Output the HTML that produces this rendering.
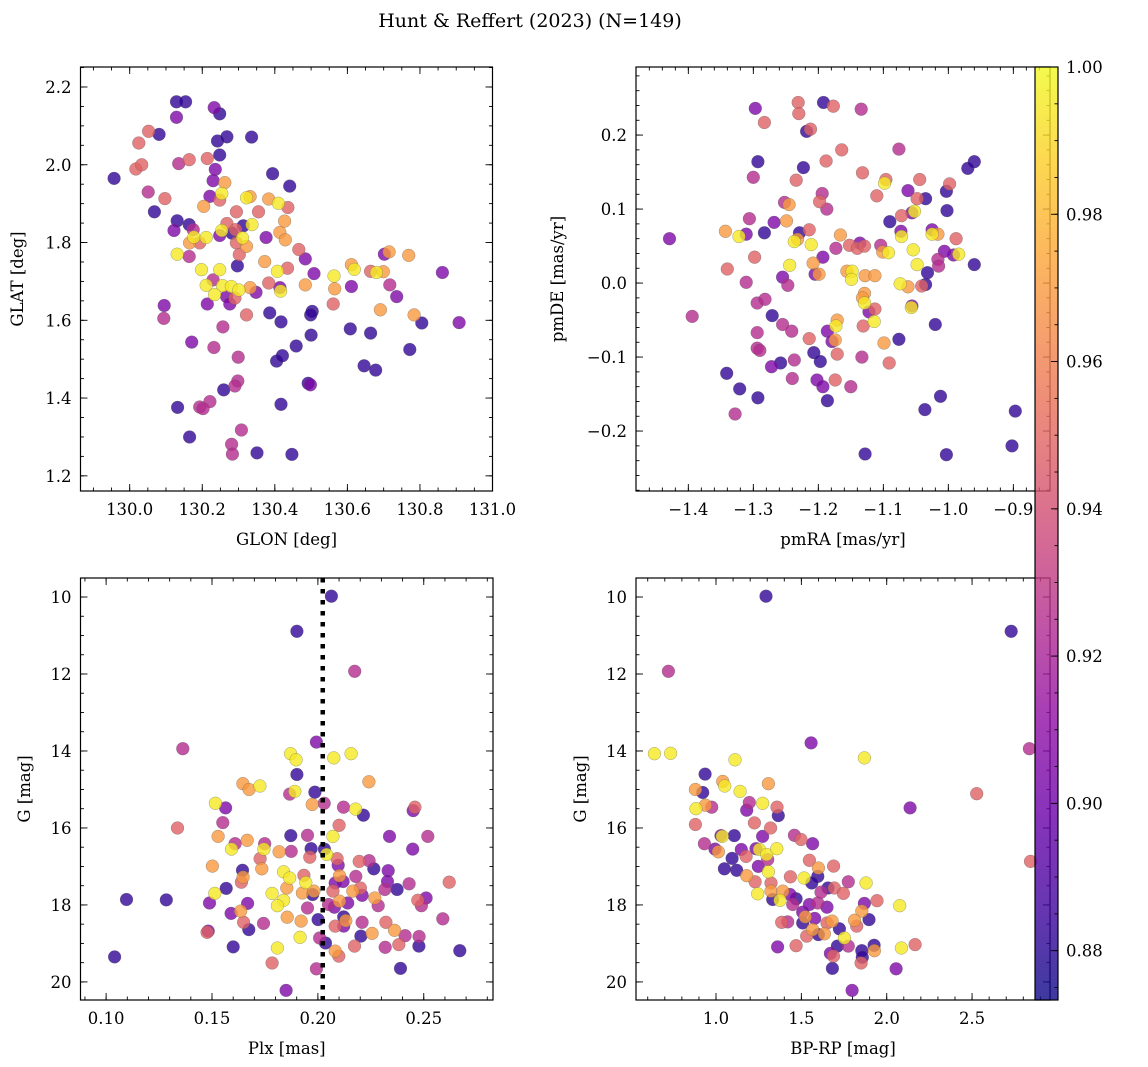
<!DOCTYPE html>
<html><head><meta charset="utf-8"><title>Hunt & Reffert (2023)</title>
<style>
html,body{margin:0;padding:0;background:#fff;}
svg{display:block;font-family:"DejaVu Serif","Liberation Serif",serif;}
</style></head>
<body>
<svg id="fig" width="1148" height="1067" viewBox="0 0 1148 1067" xmlns="http://www.w3.org/2000/svg">
<text x="530" y="27" text-anchor="middle" font-size="19">Hunt &amp; Reffert (2023) (N=149)</text>
</svg>
<script>
// ---------- Panel 1: GLON vs GLAT ----------
const p1Glon=[130.129,130.154,130.233,130.248,130.129,130.052,130.081,130.025,130.242,130.268,130.336,130.248,130.135,130.164,130.214,130.017,130.033,129.957,130.236,130.230,130.262,130.394,130.441,130.051,130.097,130.221,130.254,130.248,130.204,130.322,130.332,130.383,130.410,130.436,130.068,130.294,130.355,130.131,130.122,130.164,130.175,130.177,130.211,130.254,130.268,130.248,130.282,130.292,130.313,130.337,130.311,130.322,130.294,130.165,130.193,130.131,130.164,130.302,130.297,130.376,130.414,130.427,130.429,130.466,130.484,130.372,130.407,130.435,130.508,130.198,130.248,130.211,130.230,130.256,130.280,130.301,130.234,130.267,130.276,130.290,130.332,130.348,130.383,130.414,130.416,130.484,130.563,130.565,130.611,130.611,130.619,130.664,130.680,130.699,130.702,130.715,130.769,130.862,130.717,130.736,130.691,130.784,130.805,130.908,130.561,130.608,130.664,130.772,130.646,130.678,130.503,130.499,130.500,130.459,130.417,130.386,130.322,130.214,130.095,130.094,130.257,130.171,130.232,130.299,130.405,130.421,130.492,130.498,130.298,130.290,130.259,130.221,130.193,130.202,130.132,130.417,130.165,130.308,130.281,130.283,130.351,130.447];
const p1Glat=[2.162,2.162,2.147,2.131,2.122,2.086,2.078,2.056,2.061,2.072,2.071,2.025,2.003,2.013,2.016,1.989,2.000,1.965,1.988,1.959,1.954,1.977,1.945,1.930,1.913,1.919,1.926,1.909,1.893,1.915,1.918,1.912,1.901,1.890,1.879,1.879,1.879,1.856,1.831,1.846,1.833,1.814,1.813,1.831,1.849,1.818,1.824,1.833,1.843,1.846,1.812,1.790,1.799,1.799,1.799,1.770,1.764,1.769,1.740,1.813,1.826,1.855,1.807,1.782,1.758,1.751,1.726,1.734,1.720,1.730,1.730,1.690,1.704,1.689,1.687,1.678,1.666,1.661,1.642,1.657,1.684,1.672,1.696,1.684,1.675,1.691,1.714,1.681,1.687,1.743,1.731,1.726,1.723,1.725,1.770,1.776,1.767,1.723,1.691,1.661,1.627,1.614,1.593,1.594,1.642,1.578,1.567,1.525,1.483,1.472,1.623,1.614,1.562,1.534,1.596,1.619,1.614,1.642,1.638,1.605,1.583,1.544,1.530,1.505,1.495,1.509,1.438,1.434,1.444,1.431,1.421,1.391,1.377,1.373,1.376,1.384,1.300,1.318,1.281,1.256,1.259,1.255];
const p1Prob=[0.882,0.882,0.905,0.882,0.905,0.948,0.882,0.948,0.882,0.882,0.882,0.882,0.925,0.948,0.948,0.948,0.948,0.882,0.905,0.905,0.970,0.882,0.882,0.925,0.948,0.905,0.995,0.948,0.970,0.995,0.970,0.970,0.995,0.948,0.882,0.948,0.948,0.882,0.905,0.882,0.925,0.995,0.995,0.995,0.948,0.905,0.882,0.948,0.882,0.995,0.995,0.970,0.948,0.970,0.948,0.995,0.925,0.948,0.882,0.905,0.970,0.970,0.970,0.948,0.905,0.970,0.995,0.948,0.905,0.995,0.995,0.995,0.925,0.995,0.995,0.995,0.995,0.905,0.905,0.948,0.970,0.905,0.948,0.905,0.995,0.970,0.995,0.970,0.905,0.970,0.995,0.948,0.995,0.970,0.905,0.970,0.970,0.905,0.925,0.905,0.970,0.970,0.882,0.905,0.948,0.882,0.882,0.882,0.882,0.882,0.882,0.882,0.882,0.882,0.882,0.882,0.948,0.905,0.905,0.925,0.925,0.905,0.925,0.925,0.882,0.882,0.882,0.905,0.925,0.925,0.882,0.925,0.925,0.925,0.882,0.882,0.882,0.925,0.925,0.925,0.882,0.882];

// ---------- Panel 2: pmRA vs pmDE ----------
const p2PmRA=[-1.297,-1.231,-1.192,-1.177,-1.134,-1.230,-1.283,-1.218,-1.212,-1.164,-1.076,-1.293,-1.300,-1.223,-1.188,-1.234,-1.132,-1.096,-1.098,-1.044,-0.960,-0.970,-1.194,-1.198,-1.187,-1.252,-1.245,-1.110,-1.062,-1.048,-1.035,-1.003,-0.998,-1.002,-1.056,-1.052,-1.072,-1.090,-1.306,-1.268,-1.249,-1.343,-1.322,-1.311,-1.283,-1.229,-1.214,-1.232,-1.237,-1.211,-1.166,-1.429,-1.298,-1.340,-1.311,-1.244,-1.255,-1.247,-1.205,-1.199,-1.208,-1.193,-1.173,-1.152,-1.140,-1.136,-1.129,-1.104,-1.101,-1.092,-1.073,-1.072,-1.054,-1.025,-1.025,-1.016,-0.988,-1.006,-0.992,-0.984,-1.016,-1.015,-1.048,-1.032,-1.035,-1.041,-0.960,-1.074,-1.062,-1.156,-1.148,-1.149,-1.128,-1.113,-1.129,-1.132,-1.129,-1.122,-1.113,-1.114,-1.056,-1.057,-1.394,-1.294,-1.282,-1.271,-1.255,-1.241,-1.294,-1.294,-1.290,-1.171,-1.173,-1.186,-1.179,-1.174,-1.214,-1.131,-1.099,-1.076,-1.020,-1.171,-1.207,-1.197,-1.237,-1.258,-1.272,-1.341,-1.321,-1.293,-1.328,-1.240,-1.202,-1.193,-1.174,-1.150,-1.186,-1.133,-1.091,-1.012,-1.036,-0.897,-0.902,-1.128,-1.003];
const p2PmDE=[0.236,0.244,0.244,0.239,0.235,0.229,0.217,0.205,0.208,0.180,0.181,0.164,0.143,0.156,0.165,0.139,0.149,0.140,0.135,0.140,0.164,0.155,0.121,0.110,0.100,0.109,0.106,0.118,0.125,0.114,0.114,0.124,0.134,0.098,0.095,0.097,0.091,0.083,0.087,0.082,0.084,0.070,0.063,0.066,0.068,0.068,0.072,0.059,0.056,0.052,0.065,0.060,0.035,0.019,0.001,0.024,0.008,-0.003,0.012,0.012,0.027,0.035,0.047,0.051,0.047,0.054,0.050,0.051,0.042,0.041,0.070,0.063,0.045,0.072,0.066,0.066,0.060,0.043,0.038,0.039,0.032,0.023,0.025,0.014,-0.002,-0.004,0.025,-0.001,-0.005,0.016,0.016,0.005,0.010,0.010,-0.014,-0.020,-0.027,-0.039,-0.035,-0.052,-0.031,-0.033,-0.045,-0.027,-0.022,-0.044,-0.056,-0.065,-0.067,-0.088,-0.091,-0.050,-0.058,-0.065,-0.079,-0.077,-0.075,-0.058,-0.081,-0.076,-0.056,-0.096,-0.094,-0.106,-0.104,-0.108,-0.113,-0.122,-0.143,-0.155,-0.177,-0.129,-0.131,-0.140,-0.131,-0.140,-0.159,-0.100,-0.108,-0.153,-0.171,-0.173,-0.220,-0.231,-0.232];
const p2Prob=[0.905,0.948,0.882,0.948,0.925,0.948,0.948,0.882,0.948,0.948,0.925,0.882,0.925,0.882,0.948,0.948,0.948,0.948,0.995,0.948,0.882,0.882,0.925,0.948,0.925,0.925,0.970,0.948,0.905,0.948,0.882,0.882,0.948,0.882,0.905,0.995,0.948,0.882,0.925,0.905,0.970,0.970,0.995,0.905,0.882,0.882,0.948,0.970,0.995,0.995,0.970,0.905,0.948,0.948,0.925,0.995,0.905,0.925,0.905,0.970,0.970,0.905,0.925,0.948,0.948,0.905,0.948,0.925,0.970,0.995,0.905,0.995,0.995,0.905,0.995,0.970,0.948,0.905,0.905,0.995,0.925,0.925,0.995,0.882,0.882,0.948,0.882,0.995,0.970,0.970,0.995,0.995,0.970,0.970,0.970,0.970,0.995,0.905,0.948,0.995,0.905,0.995,0.925,0.925,0.925,0.882,0.925,0.925,0.925,0.925,0.925,0.970,0.995,0.905,0.905,0.970,0.948,0.948,0.970,0.882,0.882,0.948,0.882,0.882,0.925,0.882,0.905,0.882,0.882,0.882,0.925,0.925,0.905,0.905,0.948,0.925,0.882,0.925,0.948,0.882,0.882,0.882,0.882,0.882,0.882];

// ---------- Panel 3: Plx vs G ----------
const p3Plx=[0.2064,0.1901,0.2174,0.1362,0.1993,0.1871,0.1897,0.2075,0.2157,0.1901,0.2241,0.1646,0.1675,0.1726,0.1867,0.1891,0.1986,0.1516,0.1564,0.1973,0.2030,0.2121,0.2178,0.2215,0.2458,0.2450,0.1551,0.1337,0.1529,0.1609,0.1592,0.1666,0.1749,0.1745,0.1817,0.1872,0.1951,0.1968,0.1874,0.2031,0.2041,0.2071,0.2100,0.1727,0.1502,0.1644,0.1735,0.1962,0.2091,0.2096,0.2195,0.2242,0.2264,0.2338,0.2519,0.2448,0.2332,0.1647,0.1639,0.1567,0.1513,0.1838,0.1867,0.1934,0.1943,0.1853,0.1784,0.1838,0.1809,0.1927,0.1981,0.1975,0.2071,0.2082,0.2119,0.2102,0.2179,0.2165,0.2201,0.2209,0.2141,0.2102,0.2078,0.2050,0.2269,0.2285,0.2316,0.2329,0.2374,0.2431,0.2620,0.2472,0.2511,0.2489,0.1096,0.1284,0.1488,0.1590,0.1635,0.1668,0.1649,0.1674,0.1743,0.1855,0.1921,0.1951,0.2001,0.1482,0.1477,0.1600,0.1916,0.1809,0.1784,0.2008,0.2036,0.2082,0.2122,0.2132,0.2122,0.2209,0.2203,0.2173,0.2256,0.2321,0.2362,0.2412,0.2478,0.2477,0.2318,0.2382,0.2590,0.2670,0.2082,0.2099,0.1993,0.2390,0.1850,0.1040];
const p3G=[9.98,10.89,11.93,13.94,13.77,14.07,14.23,14.18,14.07,14.61,14.80,14.85,15.00,14.91,15.12,15.05,15.07,15.36,15.48,15.39,15.36,15.46,15.51,15.67,15.46,15.55,15.86,16.00,16.22,16.41,16.55,16.32,16.41,16.55,16.62,16.20,16.19,16.54,16.61,16.55,16.69,16.22,15.93,16.80,16.99,17.10,17.06,16.76,16.80,16.97,16.87,16.85,17.06,16.22,16.22,16.55,17.11,17.28,17.41,17.57,17.70,17.14,17.30,17.23,17.42,17.56,17.70,17.88,18.02,17.69,17.64,17.73,17.64,17.43,17.39,17.24,17.26,17.64,17.56,17.75,17.95,17.90,18.06,17.99,17.82,18.02,17.60,17.39,17.60,17.45,17.41,17.88,17.82,18.02,17.86,17.87,17.95,18.22,18.16,17.96,18.45,18.64,18.48,18.32,18.42,18.08,18.38,18.68,18.71,19.09,18.84,19.12,19.51,18.86,18.99,18.55,18.31,18.41,18.55,18.45,18.81,19.07,18.74,18.45,18.66,18.80,18.82,19.07,19.10,19.03,18.36,19.19,19.20,19.33,19.66,19.65,20.22,19.35];
const p3Prob=[0.882,0.882,0.925,0.925,0.905,0.995,0.995,0.995,0.995,0.882,0.970,0.970,0.970,0.995,0.925,0.995,0.882,0.995,0.905,0.970,0.925,0.925,0.995,0.882,0.948,0.905,0.925,0.948,0.970,0.925,0.995,0.970,0.925,0.995,0.970,0.882,0.925,0.882,0.925,0.882,0.995,0.995,0.948,0.948,0.970,0.882,0.970,0.948,0.948,0.905,0.948,0.925,0.882,0.905,0.925,0.905,0.905,0.970,0.948,0.882,0.995,0.995,0.995,0.948,0.995,0.970,0.995,0.995,0.995,0.970,0.970,0.882,0.948,0.905,0.905,0.970,0.925,0.970,0.948,0.905,0.905,0.970,0.905,0.925,0.970,0.925,0.925,0.905,0.882,0.925,0.948,0.948,0.905,0.925,0.882,0.882,0.905,0.905,0.970,0.905,0.948,0.882,0.925,0.970,0.970,0.925,0.882,0.905,0.948,0.882,0.995,0.995,0.948,0.925,0.882,0.948,0.882,0.970,0.905,0.925,0.882,0.948,0.970,0.948,0.970,0.925,0.925,0.882,0.925,0.948,0.925,0.882,0.970,0.948,0.925,0.882,0.905,0.882];
const p3PlxLine=0.2023;

// ---------- Panel 4: BP-RP vs G ----------
const p4BpRp=[1.293,2.729,0.721,1.557,2.836,0.639,0.734,1.869,1.111,0.936,1.039,1.051,1.141,1.307,0.879,0.922,0.938,0.975,0.883,1.195,1.180,1.273,1.357,1.365,2.527,2.137,0.879,1.225,1.320,1.029,1.037,1.107,1.273,0.932,0.994,1.014,1.094,1.049,1.121,1.148,1.176,1.234,1.254,1.297,1.356,1.248,1.307,1.303,1.459,1.498,1.566,1.547,1.600,1.689,1.596,1.561,1.516,1.436,1.180,1.229,1.244,1.322,1.322,1.332,1.375,1.391,1.434,1.469,1.449,1.508,1.547,1.596,1.650,1.615,1.656,1.693,1.746,1.775,1.879,1.943,1.869,1.854,1.896,1.811,1.824,2.076,1.385,1.420,1.508,1.523,1.578,1.566,1.531,1.600,1.635,1.680,1.650,1.723,1.752,1.775,1.711,1.670,1.688,1.361,1.469,1.854,1.857,1.850,1.926,1.928,2.086,2.166,1.682,2.055,1.797,2.842];
const p4G=[9.98,10.89,11.93,13.79,13.94,14.07,14.06,14.18,14.23,14.60,14.79,14.91,15.05,14.85,15.00,15.08,15.41,15.46,15.50,15.34,15.54,15.36,15.46,15.68,15.11,15.48,15.91,15.87,16.00,16.20,16.22,16.20,16.22,16.41,16.55,16.62,16.79,17.06,17.10,16.56,16.74,16.54,16.56,16.69,16.54,17.00,17.14,16.82,16.19,16.30,16.41,16.84,17.04,16.99,17.26,17.43,17.30,17.27,17.24,17.40,17.71,17.43,17.64,17.86,17.88,17.64,17.73,17.84,17.99,18.19,17.99,17.95,18.06,17.67,17.56,17.56,17.70,17.40,17.43,17.89,17.96,18.16,18.38,18.40,18.55,18.02,18.45,18.44,18.47,18.31,18.35,18.64,18.81,18.77,18.75,18.42,18.47,18.62,18.86,19.07,19.07,19.26,19.33,19.09,19.06,19.19,19.36,19.51,19.05,19.19,19.12,19.03,19.65,19.66,20.22,16.87];
const p4Prob=[0.882,0.882,0.925,0.905,0.925,0.995,0.995,0.995,0.995,0.882,0.970,0.995,0.995,0.970,0.970,0.882,0.970,0.925,0.995,0.925,0.905,0.995,0.948,0.882,0.948,0.905,0.948,0.948,0.948,0.905,0.995,0.882,0.905,0.925,0.905,0.970,0.882,0.882,0.882,0.905,0.948,0.905,0.995,0.995,0.995,0.905,0.995,0.925,0.925,0.948,0.905,0.948,0.970,0.948,0.882,0.882,0.995,0.948,0.970,0.948,0.995,0.948,0.970,0.882,0.995,0.970,0.905,0.882,0.925,0.905,0.905,0.925,0.905,0.925,0.882,0.948,0.948,0.925,0.995,0.948,0.905,0.970,0.882,0.970,0.948,0.995,0.948,0.925,0.882,0.970,0.905,0.970,0.948,0.882,0.970,0.970,0.948,0.882,0.995,0.925,0.882,0.905,0.948,0.905,0.948,0.882,0.882,0.948,0.882,0.970,0.995,0.948,0.882,0.905,0.905,0.948];

// ---------- Colorbar ----------
const cbarMin=0.8733, cbarMax=1.0;
const cbarTicks=[0.88,0.90,0.92,0.94,0.96,0.98,1.00];
const cbarTickLabels=["0.88","0.90","0.92","0.94","0.96","0.98","1.00"];

const p1XTicks=[130.0,130.2,130.4,130.6,130.8,131.0];
const p1XLabels=["130.0","130.2","130.4","130.6","130.8","131.0"];
const p1YTicks=[1.2,1.4,1.6,1.8,2.0,2.2];
const p1YLabels=["1.2","1.4","1.6","1.8","2.0","2.2"];
const p2XTicks=[-1.4,-1.3,-1.2,-1.1,-1.0,-0.9];
const p2XLabels=["\u22121.4","\u22121.3","\u22121.2","\u22121.1","\u22121.0","\u22120.9"];
const p2YTicks=[-0.2,-0.1,0.0,0.1,0.2];
const p2YLabels=["\u22120.2","\u22120.1","0.0","0.1","0.2"];
const p3XTicks=[0.10,0.15,0.20,0.25];
const p3XLabels=["0.10","0.15","0.20","0.25"];
const gTicks=[10,12,14,16,18,20];
const gLabels=["10","12","14","16","18","20"];
const p4XTicks=[1.0,1.5,2.0,2.5];
const p4XLabels=["1.0","1.5","2.0","2.5"];

const NS="http://www.w3.org/2000/svg";
const FS=16.5;
const svg=document.getElementById('fig');
function el(tag,attrs,parent){const e=document.createElementNS(NS,tag);for(const k in attrs)e.setAttribute(k,attrs[k]);(parent||svg).appendChild(e);return e;}

const plasma=[[0,13,8,135],[0.1,65,4,157],[0.2,106,0,168],[0.3,143,13,164],[0.4,177,42,144],[0.5,204,71,120],[0.6,225,100,98],[0.7,242,132,75],[0.8,252,166,54],[0.9,252,206,37],[1.0,240,249,33]];
function cmap(v){let t=(v-cbarMin)/(cbarMax-cbarMin);t=Math.max(0,Math.min(1,t));
 for(let i=0;i<plasma.length-1;i++){const a=plasma[i],b=plasma[i+1];if(t<=b[0]){const f=(t-a[0])/(b[0]-a[0]);return `rgb(${Math.round(a[1]+f*(b[1]-a[1]))},${Math.round(a[2]+f*(b[2]-a[2]))},${Math.round(a[3]+f*(b[3]-a[3]))})`;}}
 return 'rgb(240,249,33)';}

function panel(cfg){
 const g=el('g',{});
 
 
 const {x0,y0,x1,y1}=cfg.box;
 const sx=v=>x0+(v-cfg.xd[0])/(cfg.xd[1]-cfg.xd[0])*(x1-x0);
 const sy=v=>cfg.invY? y0+(v-cfg.yd[0])/(cfg.yd[1]-cfg.yd[0])*(y1-y0) : y1-(v-cfg.yd[0])/(cfg.yd[1]-cfg.yd[0])*(y1-y0);
 const idx=cfg.xs.map((_,i)=>i).sort((a,b)=>cfg.cs[a]-cfg.cs[b]);
 const pg=el('g',{},g);
 
 
 for(const i of idx){
  const c=el('circle',{cx:sx(cfg.xs[i]).toFixed(1),cy:sy(cfg.ys[i]).toFixed(1),r:6.4,fill:cmap(cfg.cs[i]),'fill-opacity':0.8,stroke:'rgba(90,90,90,0.55)','stroke-width':0.5},pg);
  
  
 }
 if(cfg.vline!==undefined){
  const l=el('line',{x1:sx(cfg.vline),x2:sx(cfg.vline),y1:y0,y2:y1,stroke:'#000','stroke-width':4.5,'stroke-dasharray':'4.5 6.5'},g);
  
  
 }
 const fr=el('rect',{x:x0,y:y0,width:x1-x0,height:y1-y0,fill:'none',stroke:'#000','stroke-width':1.2},g);
 
 
 const tg=el('g',{stroke:'#000','stroke-width':0.9},g);
 for(let v=Math.ceil(cfg.xd[0]/cfg.xmin-1e-6)*cfg.xmin;v<=cfg.xd[1]+1e-9;v+=cfg.xmin){const X=sx(v);if(X<x0+0.5||X>x1-0.5)continue;el('line',{x1:X,x2:X,y1:y1,y2:y1-3.5},tg);el('line',{x1:X,x2:X,y1:y0,y2:y0+3.5},tg);}
 const ylo=Math.min(...cfg.yd),yhi=Math.max(...cfg.yd);
 for(let v=Math.ceil(ylo/cfg.ymin-1e-6)*cfg.ymin;v<=yhi+1e-9;v+=cfg.ymin){const Y=sy(v);if(Y<y0+0.5||Y>y1-0.5)continue;el('line',{x1:x0,x2:x0+3.5,y1:Y,y2:Y},tg);el('line',{x1:x1,x2:x1-3.5,y1:Y,y2:Y},tg);}
 cfg.xt.forEach((v,i)=>{const X=sx(v);el('line',{x1:X,x2:X,y1:y1,y2:y1-7},tg);el('line',{x1:X,x2:X,y1:y0,y2:y0+7},tg);
  const t=el('text',{x:X,y:y1+24,'text-anchor':'middle','font-size':FS},g);t.textContent=cfg.xl[i];
  
  });
 cfg.yt.forEach((v,i)=>{const Y=sy(v);el('line',{x1:x0,x2:x0+7,y1:Y,y2:Y},tg);el('line',{x1:x1,x2:x1-7,y1:Y,y2:Y},tg);
  const t=el('text',{x:x0-9,y:Y+6,'text-anchor':'end','font-size':FS},g);t.textContent=cfg.yl[i];
  
  });
 const xt=el('text',{x:(x0+x1)/2,y:y1+54,'text-anchor':'middle','font-size':FS},g);xt.textContent=cfg.xlabel;
 
 
 const yt=el('text',{x:0,y:0,'text-anchor':'middle','font-size':FS,transform:`translate(${cfg.ylx},${(y0+y1)/2}) rotate(-90)`},g);yt.textContent=cfg.ylabel;
 
 
}

panel({name:'glon-glat-panel',box:{x0:80.5,y0:67,x1:492.5,y1:491},xd:[129.8644,131.0],yd:[1.161,2.2514],xs:p1Glon,ys:p1Glat,cs:p1Prob,xt:p1XTicks,xl:p1XLabels,yt:p1YTicks,yl:p1YLabels,xmin:0.05,ymin:0.05,xlabel:'GLON [deg]',ylabel:'GLAT [deg]',ylx:23});
panel({name:'proper-motion-panel',box:{x0:636,y0:67,x1:1050,y1:491},xd:[-1.4805,-0.8436],yd:[-0.281,0.292],xs:p2PmRA,ys:p2PmDE,cs:p2Prob,xt:p2XTicks,xl:p2XLabels,yt:p2YTicks,yl:p2YLabels,xmin:0.02,ymin:0.02,xlabel:'pmRA [mas/yr]',ylabel:'pmDE [mas/yr]',ylx:563});
panel({name:'parallax-magnitude-panel',box:{x0:80.5,y0:578,x1:493,y1:1000},xd:[0.0879,0.2827],yd:[9.506,20.47],invY:true,xs:p3Plx,ys:p3G,cs:p3Prob,vline:p3PlxLine,xt:p3XTicks,xl:p3XLabels,yt:gTicks,yl:gLabels,xmin:0.01,ymin:0.5,xlabel:'Plx [mas]',ylabel:'G [mag]',ylx:30});
panel({name:'cmd-panel',box:{x0:636,y0:578,x1:1050,y1:1000},xd:[0.5313,2.9565],yd:[9.506,20.47],invY:true,xs:p4BpRp,ys:p4G,cs:p4Prob,xt:p4XTicks,xl:p4XLabels,yt:gTicks,yl:gLabels,xmin:0.1,ymin:0.5,xlabel:'BP-RP [mag]',ylabel:'G [mag]',ylx:586});

(function(){
 const cx0=1035,cx1=1058,cy0=67,cy1=1000;
 const g=el('g',{});
 
 
 const defs=el('defs',{},g);
 const lg=el('linearGradient',{id:'cbgrad',x1:0,y1:1,x2:0,y2:0},defs);
 for(let i=0;i<=20;i++){const v=cbarMin+(cbarMax-cbarMin)*i/20;el('stop',{offset:(i/20),'stop-color':cmap(v),'stop-opacity':0.8},lg);}
 const r=el('rect',{x:cx0,y:cy0,width:cx1-cx0,height:cy1-cy0,fill:'url(#cbgrad)',stroke:'#000','stroke-width':1.2},g);
 
 
 const sy=v=>cy1-(v-cbarMin)/(cbarMax-cbarMin)*(cy1-cy0);
 const tg=el('g',{stroke:'#000','stroke-width':0.9},g);
 for(let v=0.875;v<=1.0001;v+=0.005){const Y=sy(v);if(Y<cy0+0.5||Y>cy1-0.5)continue;el('line',{x1:cx1,x2:cx1-3.5,y1:Y,y2:Y},tg);}
 cbarTicks.forEach((v,i)=>{const Y=sy(v);el('line',{x1:cx1,x2:cx1-7,y1:Y,y2:Y},tg);
  const t=el('text',{x:cx1+8,y:Y+6,'font-size':FS},g);t.textContent=cbarTickLabels[i];
  
  });
})();
</script>
</body></html>
